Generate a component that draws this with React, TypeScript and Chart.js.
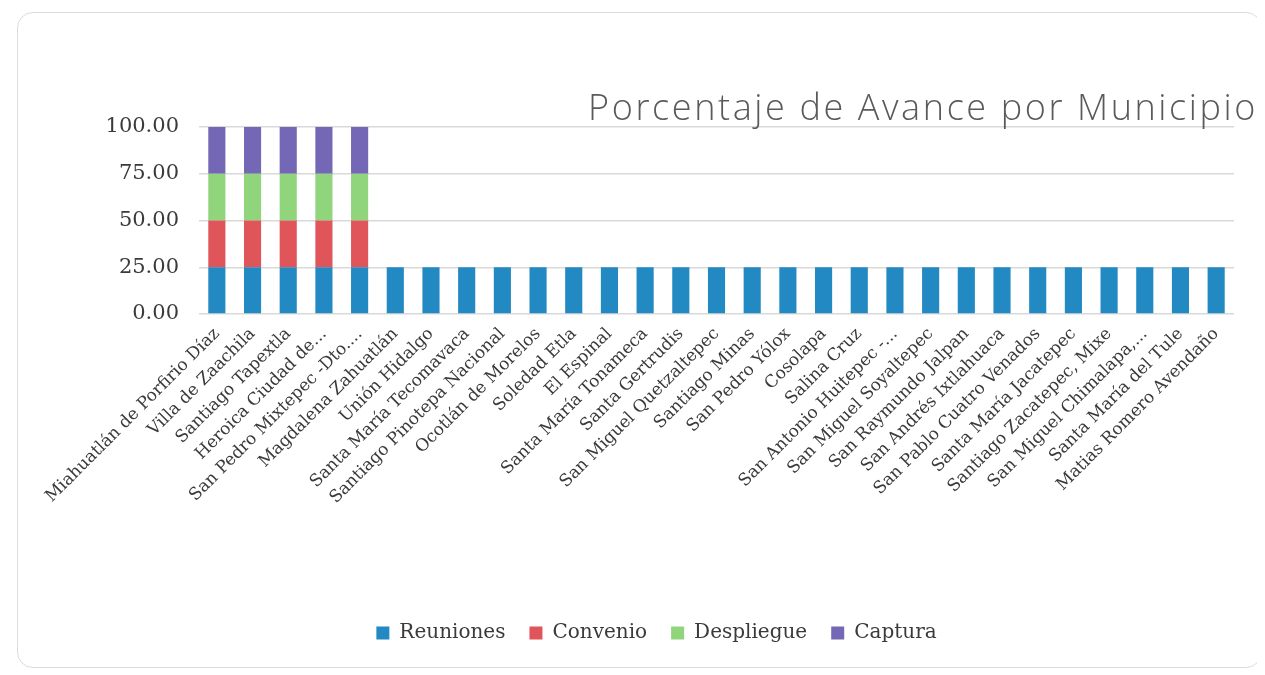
import React, { useEffect, useRef } from "react";
import { Chart, registerables } from "chart.js";

Chart.register(...registerables);

const TITLE = "Porcentaje de Avance por Municipio";

const categories = [
  "Miahuatlán de Porfirio Díaz",
  "Villa de Zaachila",
  "Santiago Tapextla",
  "Heroica Ciudad de...",
  "San Pedro Mixtepec -Dto....",
  "Magdalena Zahuatlán",
  "Unión Hidalgo",
  "Santa María Tecomavaca",
  "Santiago Pinotepa Nacional",
  "Ocotlán de Morelos",
  "Soledad Etla",
  "El Espinal",
  "Santa María Tonameca",
  "Santa Gertrudis",
  "San Miguel Quetzaltepec",
  "Santiago Minas",
  "San Pedro Yólox",
  "Cosolapa",
  "Salina Cruz",
  "San Antonio Huitepec -...",
  "San Miguel Soyaltepec",
  "San Raymundo Jalpan",
  "San Andrés Ixtlahuaca",
  "San Pablo Cuatro Venados",
  "Santa María Jacatepec",
  "Santiago Zacatepec, Mixe",
  "San Miguel Chimalapa,...",
  "Santa María del Tule",
  "Matias Romero Avendaño",
];

const reuniones = [25, 25, 25, 25, 25, 25, 25, 25, 25, 25, 25, 25, 25, 25, 25, 25, 25, 25, 25, 25, 25, 25, 25, 25, 25, 25, 25, 25, 25];
const convenio = [25, 25, 25, 25, 25, 0, 0, 0, 0, 0, 0, 0, 0, 0, 0, 0, 0, 0, 0, 0, 0, 0, 0, 0, 0, 0, 0, 0, 0];
const despliegue = [25, 25, 25, 25, 25, 0, 0, 0, 0, 0, 0, 0, 0, 0, 0, 0, 0, 0, 0, 0, 0, 0, 0, 0, 0, 0, 0, 0, 0];
const captura = [25, 25, 25, 25, 25, 0, 0, 0, 0, 0, 0, 0, 0, 0, 0, 0, 0, 0, 0, 0, 0, 0, 0, 0, 0, 0, 0, 0, 0];

const yTicks = [0, 25, 50, 75, 100];

const titlePlugin = {
  id: "cornerTitle",
  afterDraw(chart: any) {
    const ctx = chart.ctx;
    ctx.save();
    ctx.font = '300 36px "Open Sans"';
    try {
      (ctx as any).letterSpacing = "2.6px";
    } catch (e) {}
    ctx.fillStyle = "#5a5a5a";
    ctx.textAlign = "right";
    ctx.textBaseline = "middle";
    ctx.fillText(TITLE, chart.width - 3, 97);
    ctx.restore();
  },
};

export default function App() {
  const ref = useRef<HTMLCanvasElement>(null);

  useEffect(() => {
    if (!ref.current) return;
    const serif = '"DejaVu Serif"';
    const chart = new Chart(ref.current, {
      type: "bar",
      data: {
        labels: categories,
        datasets: [
          { label: "Reuniones", data: reuniones, backgroundColor: "#2389c2" },
          { label: "Convenio", data: convenio, backgroundColor: "#e0555a" },
          { label: "Despliegue", data: despliegue, backgroundColor: "#90d47c" },
          { label: "Captura", data: captura, backgroundColor: "#7467b5" },
        ],
      },
      options: {
        animation: false,
        responsive: false,
        maintainAspectRatio: false,
        layout: { padding: { top: 114, left: 61, right: 27, bottom: 14 } },
        datasets: { bar: { barPercentage: 0.48, categoryPercentage: 1 } },
        plugins: {
          title: { display: false },
          tooltip: { enabled: false },
          legend: {
            position: "bottom",
            labels: {
              boxWidth: 13,
              boxHeight: 13,
              padding: 24,
              color: "#3a3a3a",
              font: { family: serif, size: 20 },
            },
          },
        },
        scales: {
          x: {
            stacked: true,
            grid: { display: false },
            border: { display: false },
            ticks: {
              autoSkip: false,
              maxRotation: 45,
              minRotation: 45,
              padding: 2,
              color: "#3a3a3a",
              font: { family: serif, size: 17 },
            },
            afterFit: (s: any) => {
              s.height = 285;
            },
          },
          y: {
            stacked: true,
            min: 0,
            max: 100,
            afterBuildTicks: (s: any) => {
              s.ticks = yTicks.map((v) => ({ value: v }));
            },
            grid: { color: "#d9d9d9", drawTicks: false, lineWidth: 1.5 },
            border: { display: false },
            ticks: {
              padding: 20,
              color: "#3a3a3a",
              font: { family: serif, size: 21 },
              callback: (v: any) => Number(v).toFixed(2),
            },
            afterFit: (s: any) => {
              s.width = 120;
            },
          },
        },
      },
      plugins: [titlePlugin],
    });
    return () => chart.destroy();
  }, []);

  return (
    <div style={{ paddingTop: 4, paddingLeft: 9 }}>
      <div
        style={{
          width: 1245,
          height: 656,
          border: "1px solid #dcdcdc",
          borderRadius: 16,
          boxSizing: "border-box",
          background: "#fff",
          overflow: "hidden",
        }}
      >
        <canvas ref={ref} width={1243} height={654} style={{ display: "block" }} />
      </div>
    </div>
  );
}
